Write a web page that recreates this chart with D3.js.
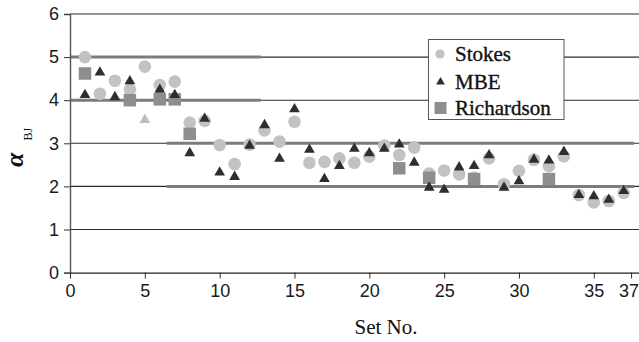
<!DOCTYPE html>
<html>
<head>
<meta charset="utf-8">
<script src="https://cdn.jsdelivr.net/npm/d3@7"></script>
<style>
  html, body { margin: 0; padding: 0; background: #fff; }
  svg { display: block; }
</style>
</head>
<body>
<svg id="chart" width="639" height="342"></svg>
<script>
// ---- data ----
const setNo = d3.range(1, 38);
const stokes = [5.0, 4.15, 4.45, 4.25, 4.78, 4.35, 4.43, 3.48, 3.52, 2.96,
                2.52, 2.97, 3.3, 3.04, 3.5, 2.55, 2.57, 2.65, 2.55, 2.69,
                2.95, 2.73, 2.9, 2.3, 2.37, 2.28, 2.2, 2.65, 2.05, 2.36,
                2.62, 2.47, 2.7, 1.8, 1.63, 1.66, 1.85];
const mbe = [4.1, 4.62, 4.05, 4.42, 3.52, 4.22, 4.1, 2.75, 3.55, 2.3,
             2.2, 2.92, 3.4, 2.62, 3.77, 2.83, 2.15, 2.45, 2.85, 2.75,
             2.85, 2.95, 2.53, 1.95, 1.9, 2.42, 2.45, 2.7, 1.95, 2.1,
             2.6, 2.58, 2.78, 1.78, 1.75, 1.67, 1.87];
const richSet = [1, 4, 6, 7, 8, 22, 24, 27, 32];
const richardson = [4.62, 4.0, 4.02, 4.02, 3.22, 2.42, 2.2, 2.17, 2.17];
const refLines = [
  {y: 5, from: 0, to: 12.74},
  {y: 4, from: 0, to: 12.74},
  {y: 3, from: 6.46, to: 37.69},
  {y: 2, from: 6.46, to: 37.69}
];
const yTicks = [0, 1, 2, 3, 4, 5, 6];
const xTickValues = [0, 5, 10, 15, 20, 25, 30, 35, 37.49];
const xTickLabels = ["0", "5", "10", "15", "20", "25", "30", "35", "37"];
const legendNames = ["Stokes", "MBE", "Richardson"];

// ---- layout ----
const svg = d3.select("#chart");
const x = d3.scaleLinear().domain([0, 38.02]).range([70, 639]);
const y = d3.scaleLinear().domain([0, 6]).range([272.6, 14]);
const sansFont = "'Liberation Sans', Arial, sans-serif";
const serifFont = "'Liberation Serif', 'Times New Roman', serif";

// thin gridlines
svg.append("g").selectAll("line").data(yTicks.filter(d => d > 0)).join("line")
  .attr("x1", x(0)).attr("x2", 639)
  .attr("y1", d => y(d)).attr("y2", d => y(d))
  .attr("stroke", "#2a2a2a").attr("stroke-width", 1.1);

// thick grey reference segments
svg.append("g").selectAll("line").data(refLines).join("line")
  .attr("x1", d => x(d.from)).attr("x2", d => x(d.to))
  .attr("y1", d => y(d.y)).attr("y2", d => y(d.y))
  .attr("stroke", "#7c7c7c").attr("stroke-width", 3);

// y axis
const yAxis = d3.axisLeft(y).tickValues(yTicks).tickFormat(d3.format("d")).tickSize(6).tickPadding(5);
const gy = svg.append("g").attr("transform", `translate(${x(0)},0)`).call(yAxis);
gy.select(".domain").attr("stroke", "#555").attr("stroke-width", 1.4);
gy.selectAll(".tick line").attr("stroke", "#333");
gy.selectAll("text").attr("font-family", sansFont).attr("font-size", 18).attr("fill", "#1a1a1a");

// x axis
const xAxis = d3.axisBottom(x).tickValues(xTickValues)
  .tickFormat((d, i) => xTickLabels[i]).tickSize(6).tickSizeOuter(0).tickPadding(6);
const gx = svg.append("g").attr("transform", `translate(0,${y(0)})`).call(xAxis);
gx.select(".domain").attr("stroke", "#222").attr("stroke-width", 1.1);
gx.selectAll(".tick line").attr("stroke", "#333");
gx.selectAll("text").attr("font-family", sansFont).attr("font-size", 18).attr("fill", "#1a1a1a");
gx.selectAll(".tick").filter((d, i) => i === xTickValues.length - 1)
  .select("text").attr("dx", -2.5);

// markers
const circleR = 6.3;
const sq = 12.5;
const tri = d3.symbol().type(d3.symbolTriangle).size(50);

svg.append("g").selectAll("circle").data(setNo).join("circle")
  .attr("cx", (d) => x(d)).attr("cy", (d, i) => y(stokes[i]))
  .attr("r", circleR).attr("fill", "#c2c2c2");

svg.append("g").selectAll("rect").data(richSet).join("rect")
  .attr("x", d => x(d) - sq / 2).attr("y", (d, i) => y(richardson[i]) - sq / 2)
  .attr("width", sq).attr("height", sq).attr("fill", "#8e8e8e");

svg.append("g").selectAll("path").data(setNo).join("path")
  .attr("d", tri)
  .attr("transform", (d, i) => `translate(${x(d)},${y(mbe[i]) - 1})`)
  .attr("fill", d => d === 5 ? "#bdbdbd" : "#2e2e2e");

// legend
const lg = svg.append("g");
lg.append("rect").attr("x", 428.5).attr("y", 39.5).attr("width", 135.5).attr("height", 80)
  .attr("fill", "#fff").attr("stroke", "#555").attr("stroke-width", 1);
const ly = [54, 82, 108];
lg.append("circle").attr("cx", 440).attr("cy", ly[0]).attr("r", 4.6).attr("fill", "#c2c2c2");
lg.append("path").attr("d", d3.symbol().type(d3.symbolTriangle).size(34))
  .attr("transform", `translate(440.5,${ly[1]})`).attr("fill", "#2e2e2e");
lg.append("rect").attr("x", 434.5).attr("y", ly[2] - 6).attr("width", 12).attr("height", 12).attr("fill", "#8e8e8e");
lg.selectAll("text.leg").data(legendNames).join("text").attr("class", "leg")
  .attr("x", 455).attr("y", (d, i) => ly[i] + 6.5)
  .attr("font-family", serifFont).attr("font-size", 21).attr("fill", "#111")
  .attr("stroke", "#111").attr("stroke-width", 0.35)
  .text(d => d);

// axis titles
svg.append("text").attr("x", 386).attr("y", 334).attr("text-anchor", "middle")
  .attr("font-family", serifFont).attr("font-size", 21).attr("fill", "#111").text("Set No.");

const yl = svg.append("text").attr("transform", "translate(23,167) rotate(-90)")
  .attr("font-family", serifFont).attr("fill", "#111");
yl.append("tspan").attr("font-size", 26).attr("font-weight", "bold").attr("font-style", "italic").text("α");
yl.append("tspan").attr("font-size", 12).attr("dx", 12).attr("dy", 9).text("BJ");
</script>
</body>
</html>
